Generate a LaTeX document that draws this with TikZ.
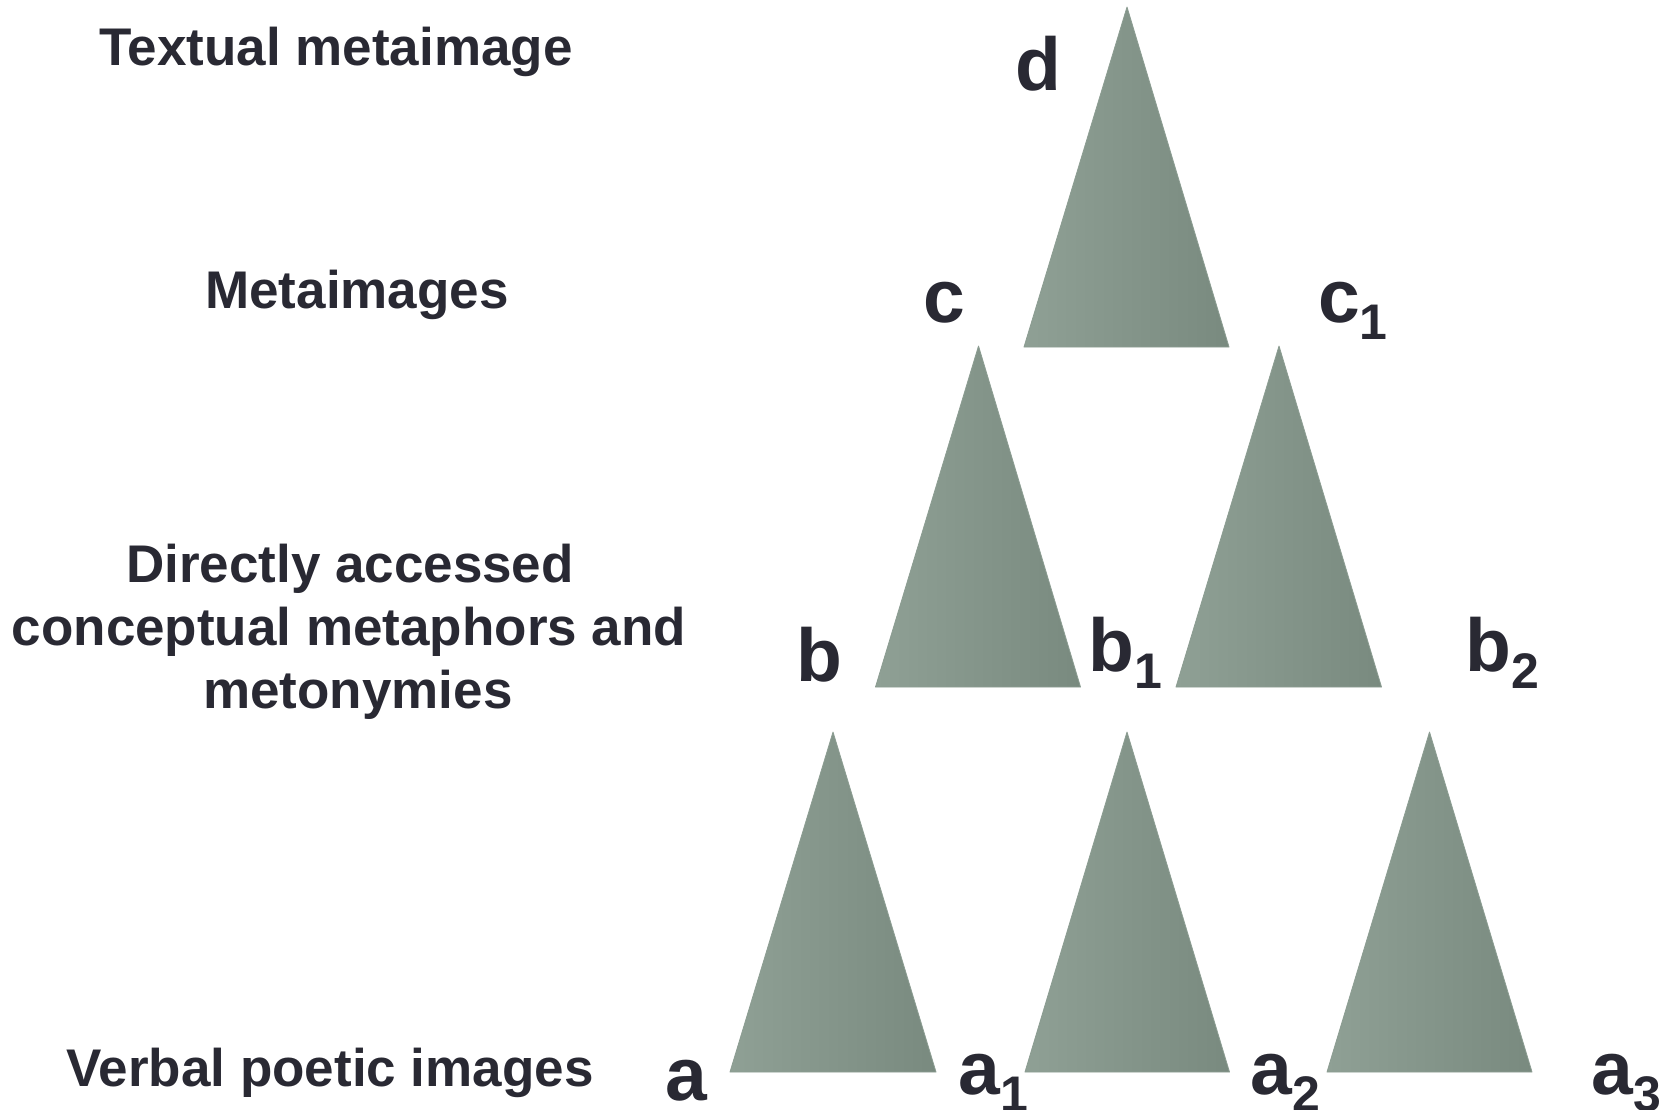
\documentclass[tikz,border=0pt]{standalone}
\usepackage{fontspec}
\setmainfont{Liberation Sans}
\definecolor{ink}{RGB}{41,41,51}
\definecolor{trilight}{RGB}{143,160,149}
\definecolor{tridark}{RGB}{121,138,127}
\definecolor{triedge}{RGB}{140,157,146}
\newcommand\lsub[1]{\raisebox{-17pt}{\fontsize{50}{50}\selectfont #1}}
\begin{document}
\begin{tikzpicture}[x=1pt,y=-1pt,
  tri/.style={left color=trilight,right color=tridark,draw=triedge,line width=0.8pt,line join=round},
  levelcap/.style={inner sep=0pt,anchor=base,text=ink,font=\bfseries\fontsize{53}{63}\selectfont},
  letterlab/.style={inner sep=0pt,anchor=base west,text=ink,font=\bfseries\fontsize{75}{75}\selectfont}]
\useasboundingbox (0,0) rectangle (1668,1110);
\fill[white] (0,0) rectangle (1668,1110);
% triangles
\draw[tri] (1127,7) -- (1229,347) -- (1024,347) -- cycle;
\draw[tri] (978.5,346) -- (1080.5,687) -- (875.5,687) -- cycle;
\draw[tri] (1279,346) -- (1381.5,687) -- (1176,687) -- cycle;
\draw[tri] (833,732) -- (936,1072) -- (730,1072) -- cycle;
\draw[tri] (1127,732) -- (1229.5,1072) -- (1025,1072) -- cycle;
\draw[tri] (1429.5,732) -- (1532,1072) -- (1327,1072) -- cycle;
% level captions
\node[levelcap] (t1) at (336,66) {Textual metaimage};
\node[levelcap] (t2) at (357,308) {Metaimages};
\node[levelcap] (t3a) at (350,582) {Directly accessed};
\node[levelcap] (t3b) at (349,645) {conceptual metaphors and};
\node[levelcap] (t3c) at (358,708) {metonymies};
\node[levelcap] (t4) at (330,1086) {Verbal poetic images};
% letter labels
\node[letterlab] (d) at (1015,91) {d};
\node[letterlab] (c) at (923,322) {c};
\node[letterlab] (c1) at (1318,322) {c\lsub{1}};
\node[letterlab] (b) at (796.5,681) {b};
\node[letterlab] (b1) at (1088,671) {b\lsub{1}};
\node[letterlab] (b2) at (1465,671) {b\lsub{2}};
\node[letterlab] (a) at (665.5,1100) {a};
\node[letterlab] (a1) at (958.5,1094) {a\lsub{1}};
\node[letterlab] (a2) at (1250.5,1094) {a\lsub{2}};
\node[letterlab] (a3) at (1591.5,1094) {a\lsub{3}};
\end{tikzpicture}
\end{document}
